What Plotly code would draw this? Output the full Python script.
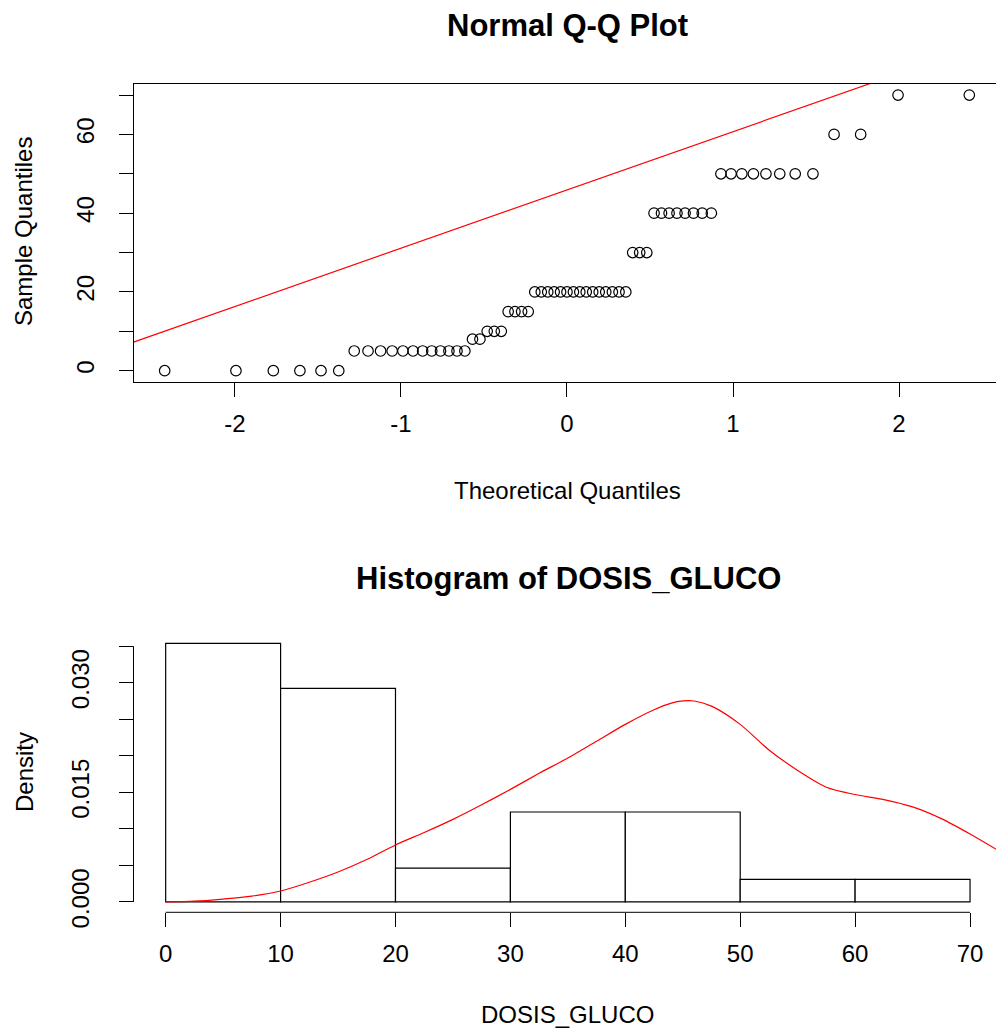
import numpy as np
import plotly.graph_objects as go
from statistics import NormalDist

# ---------------- data ----------------
dosis_values = [0, 5, 8, 10, 15, 20, 30, 40, 50, 60, 70]
dosis_counts = [6, 12, 2, 3, 4, 15, 3, 8, 8, 2, 2]
hist_breaks = [0, 10, 20, 30, 40, 50, 60, 70]

qq_line_intercept = 45.9
qq_line_slope = 14.8

dens_x = [0, 2.5, 5, 7.5, 10, 12.5, 15, 17.5, 20, 22.5, 25, 27.5, 30, 32.5, 35,
          37.5, 40, 42.5, 44, 45, 46, 47.5, 50, 52.5, 55, 57.5, 60, 62.5, 65,
          67.5, 70, 72.5]
dens_y = [0.0000, 0.0001, 0.0004, 0.0008, 0.0015, 0.0027, 0.0041, 0.0058, 0.0078,
          0.0095, 0.0113, 0.0133, 0.0154, 0.0176, 0.0197, 0.0220, 0.0243, 0.0263,
          0.0272, 0.0275, 0.0275, 0.0268, 0.0243, 0.0208, 0.0180, 0.0157, 0.0147,
          0.0140, 0.0130, 0.0114, 0.0093, 0.0070]

qq_xticks = [-2, -1, 0, 1, 2]
qq_xtick_labels = ["-2", "-1", "0", "1", "2"]
qq_yticks = [0, 10, 20, 30, 40, 50, 60, 70]
qq_ytick_labels = ["0", "", "20", "", "40", "", "60", ""]
hist_xticks = [0, 10, 20, 30, 40, 50, 60, 70]
hist_xtick_labels = ["0", "10", "20", "30", "40", "50", "60", "70"]
hist_yticks = [0, 0.005, 0.010, 0.015, 0.020, 0.025, 0.030, 0.035]
hist_ytick_labels = ["0.000", "", "", "0.015", "", "", "0.030", ""]

title_qq = "Normal Q-Q Plot"
title_hist = "Histogram of DOSIS_GLUCO"
xlab_qq = "Theoretical Quantiles"
ylab_qq = "Sample Quantiles"
xlab_hist = "DOSIS_GLUCO"
ylab_hist = "Density"

# ---------------- derived quantities ----------------
sample = np.sort(np.repeat(dosis_values, dosis_counts))
n = len(sample)
a = 3 / 8 if n <= 10 else 0.5
probs = (np.arange(1, n + 1) - a) / (n + 1 - 2 * a)
theo = [NormalDist().inv_cdf(p) for p in probs]

breaks = np.array(hist_breaks, dtype=float)
idx = np.searchsorted(breaks, sample, side="left") - 1
idx = np.clip(idx, 0, len(breaks) - 2)
counts = np.bincount(idx, minlength=len(breaks) - 1)
widths = np.diff(breaks)
density = counts / (n * widths)
mids = (breaks[:-1] + breaks[1:]) / 2

# ---------------- layout geometry ----------------
W, H = 996, 1028
FONT = "Liberation Sans, Arial, sans-serif"
px_left = 133.5
qq_top, qq_bot = 84.0, 381.7
h_top, h_bot = 633.0, 912.3

qq_xrange = [-2.611, 2.584]
qq_yrange = [-2.8, 72.8]
hist_xrange = [-2.8, 72.26]
dmax = float(density.max())
hist_yrange = [-0.04 * dmax, dmax * 1.04]

fig = go.Figure()

# QQ points
fig.add_trace(go.Scatter(
    x=theo, y=sample, mode="markers",
    marker=dict(symbol="circle-open", size=10.5, color="black", line=dict(width=1.2, color="black")),
    xaxis="x", yaxis="y", showlegend=False, hoverinfo="skip"))

# QQ reference line
lx = np.array(qq_xrange)
fig.add_trace(go.Scatter(
    x=lx, y=qq_line_intercept + qq_line_slope * lx, mode="lines",
    line=dict(color="red", width=1.2), xaxis="x", yaxis="y",
    showlegend=False, hoverinfo="skip"))

# Histogram bars
fig.add_trace(go.Bar(
    x=mids, y=density, width=widths, base=0,
    marker=dict(color="white", line=dict(color="black", width=1.2)),
    xaxis="x2", yaxis="y2", showlegend=False, hoverinfo="skip"))

# Density curve
fig.add_trace(go.Scatter(
    x=dens_x, y=dens_y, mode="lines", line=dict(color="red", width=1.2, shape="spline", smoothing=0.8),
    xaxis="x2", yaxis="y2", showlegend=False, hoverinfo="skip"))

tickfont = dict(family=FONT, size=24, color="black")
common = dict(showgrid=False, zeroline=False, ticks="outside", ticklen=14, automargin=False,
              tickwidth=1, tickcolor="black", tickfont=tickfont)

fig.update_layout(
    width=W, height=H, autosize=False,
    margin=dict(l=0, r=0, t=0, b=0, pad=0),
    paper_bgcolor="white", plot_bgcolor="white",
    xaxis=dict(domain=[px_left / W, 1.0], range=qq_xrange, anchor="y",
               showline=True, mirror=True, linecolor="black", linewidth=1,
               tickvals=qq_xticks, ticktext=qq_xtick_labels, ticklabelstandoff=6, **common),
    yaxis=dict(domain=[1 - qq_bot / H, 1 - qq_top / H], range=qq_yrange, anchor="x",
               showline=True, linecolor="black", linewidth=1,
               tickvals=qq_yticks, ticktext=qq_ytick_labels, tickangle=-90,
               ticklabelstandoff=15, **common),
    xaxis2=dict(domain=[px_left / W, 1.0], range=hist_xrange, anchor="y2",
                showline=False, tickvals=hist_xticks, ticktext=hist_xtick_labels,
                ticklabelstandoff=6, **common),
    yaxis2=dict(domain=[1 - h_bot / H, 1 - h_top / H], range=hist_yrange, anchor="x2",
                showline=False, tickvals=hist_yticks, ticktext=hist_ytick_labels,
                tickangle=-90, ticklabelstandoff=20, **common),
    shapes=[
        dict(type="line", xref="x2", yref="y2 domain", x0=hist_xticks[0], x1=hist_xticks[-1],
             y0=0, y1=0, line=dict(color="black", width=1)),
        dict(type="line", xref="x2 domain", yref="y2", x0=0, x1=0,
             y0=hist_yticks[0], y1=hist_yticks[-1], line=dict(color="black", width=1)),
    ],
    annotations=[
        dict(text="<b>%s</b>" % title_qq, x=567 / W, y=1 - 25 / H, xref="paper", yref="paper",
             showarrow=False, xanchor="center", yanchor="middle",
             font=dict(family=FONT, size=31, color="black")),
        dict(text="<b>%s</b>" % title_hist, x=568 / W, y=1 - 578 / H, xref="paper", yref="paper",
             showarrow=False, xanchor="center", yanchor="middle",
             font=dict(family=FONT, size=31, color="black")),
        dict(text=xlab_qq, x=567 / W, y=1 - 490 / H, xref="paper", yref="paper",
             showarrow=False, xanchor="center", yanchor="middle",
             font=dict(family=FONT, size=24, color="black")),
        dict(text=ylab_qq, x=24 / W, y=1 - 232 / H, xref="paper", yref="paper",
             showarrow=False, xanchor="center", yanchor="middle", textangle=-90,
             font=dict(family=FONT, size=24, color="black")),
        dict(text=xlab_hist, x=567 / W, y=1 - 1014 / H, xref="paper", yref="paper",
             showarrow=False, xanchor="center", yanchor="middle",
             font=dict(family=FONT, size=24, color="black")),
        dict(text=ylab_hist, x=24 / W, y=1 - 772 / H, xref="paper", yref="paper",
             showarrow=False, xanchor="center", yanchor="middle", textangle=-90,
             font=dict(family=FONT, size=24, color="black")),
    ],
)

fig.write_html("out.html")
